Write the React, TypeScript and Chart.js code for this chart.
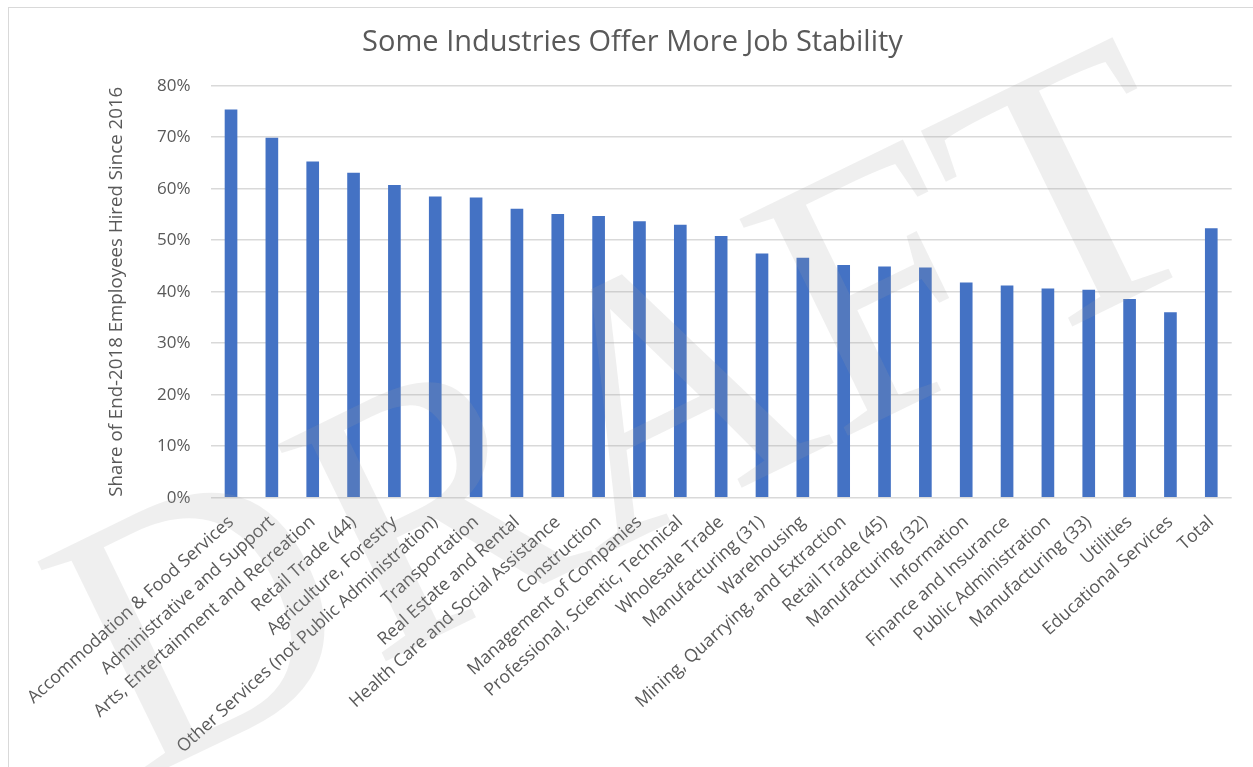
import React, { useEffect, useRef } from "react";
import { Chart, registerables } from "chart.js";

Chart.register(...registerables);

const chartTitle = "Some Industries Offer More Job Stability";
const yAxisTitle = "Share of End-2018 Employees Hired Since 2016";
const watermarkText = "DRAFT";

const categories = [
  "Accommodation & Food Services",
  "Administrative and Support",
  "Arts, Entertainment and Recreation",
  "Retail Trade (44)",
  "Agriculture, Forestry",
  "Other Services (not Public Administration)",
  "Transportation",
  "Real Estate and Rental",
  "Health Care and Social Assistance",
  "Construction",
  "Management of Companies",
  "Professional, Scientic, Technical",
  "Wholesale Trade",
  "Manufacturing (31)",
  "Warehousing",
  "Mining, Quarrying, and Extraction",
  "Retail Trade (45)",
  "Manufacturing (32)",
  "Information",
  "Finance and Insurance",
  "Public Administration",
  "Manufacturing (33)",
  "Utilities",
  "Educational Services",
  "Total",
];

const shareHired = [
  0.754, 0.699, 0.653, 0.631, 0.607, 0.585, 0.583, 0.561, 0.551, 0.547,
  0.537, 0.53, 0.508, 0.474, 0.466, 0.452, 0.449, 0.447, 0.418, 0.412,
  0.406, 0.404, 0.386, 0.36, 0.523,
];

const yTickValues = [0, 0.1, 0.2, 0.3, 0.4, 0.5, 0.6, 0.7, 0.8];

const TEXT = "#595959";
const GRID = "#d9d9d9";
const BAR = "#4472C4";
const FONT = "'Open Sans', 'Noto Sans', sans-serif";

const watermarkPlugin = {
  id: "watermark",
  afterDraw(chart: any) {
    const ctx = chart.ctx;
    ctx.save();
    ctx.translate(125, 776);
    ctx.rotate((-26 * Math.PI) / 180);
    ctx.font = "370px 'Liberation Serif', 'DejaVu Serif', serif";
    ctx.fillStyle = "rgba(160,160,160,0.17)";
    ctx.textAlign = "left";
    ctx.textBaseline = "alphabetic";
    ctx.fillText(watermarkText, 0, 0);
    ctx.restore();
  },
};

export default function App() {
  const canvasRef = useRef<HTMLCanvasElement | null>(null);

  useEffect(() => {
    const canvas = canvasRef.current;
    if (!canvas) return;
    const chart = new Chart(canvas, {
      type: "bar",
      data: {
        labels: categories,
        datasets: [
          {
            label: "Share",
            data: shareHired,
            backgroundColor: BAR,
            borderWidth: 0,
            barPercentage: 0.31,
            categoryPercentage: 1,
          },
        ],
      },
      options: {
        animation: false,
        responsive: false,
        maintainAspectRatio: false,
        devicePixelRatio: 1,
        layout: { padding: { left: 24.3, right: 21.3, top: 0, bottom: 0 } },
        plugins: {
          legend: { display: false },
          tooltip: { enabled: false },
          title: {
            display: true,
            text: chartTitle,
            color: TEXT,
            font: { family: FONT, size: 29, weight: "normal" },
            padding: { top: 17.6, bottom: 25.3 },
          },
        },
        scales: {
          x: {
            grid: { display: false, drawTicks: false },
            border: { display: false },
            ticks: {
              autoSkip: false,
              maxRotation: 42,
              minRotation: 42,
              padding: 14,
              color: TEXT,
              font: { family: FONT, size: 17.7 },
            },
            afterFit(scale: any) {
              scale.height = 269.3;
            },
          },
          y: {
            min: 0,
            max: 0.8,
            afterBuildTicks(scale: any) {
              scale.ticks = yTickValues.map((v) => ({ value: v }));
            },
            grid: { color: GRID, lineWidth: 1.5, drawTicks: false },
            border: { display: false },
            ticks: {
              padding: 20,
              color: TEXT,
              font: { family: FONT, size: 17 },
              callback: (v: any) => Math.round(Number(v) * 100) + "%",
            },
            title: {
              display: true,
              text: yAxisTitle,
              color: TEXT,
              font: { family: FONT, size: 18.7 },
              padding: { top: 72.5, bottom: 0 },
            },
            afterFit(scale: any) {
              scale.width = 177.3;
            },
          },
        },
      },
      plugins: [watermarkPlugin],
    });
    return () => chart.destroy();
  }, []);

  return (
    <div
      style={{
        position: "fixed",
        left: 8,
        top: 7,
        width: 1245,
        height: 760,
        borderLeft: `1px solid ${GRID}`,
        borderTop: `1px solid ${GRID}`,
        background: "#ffffff",
        boxSizing: "border-box",
      }}
    >
      <canvas
        ref={canvasRef}
        width={1244}
        height={759}
        style={{ display: "block", width: 1244, height: 759 }}
      />
    </div>
  );
}
